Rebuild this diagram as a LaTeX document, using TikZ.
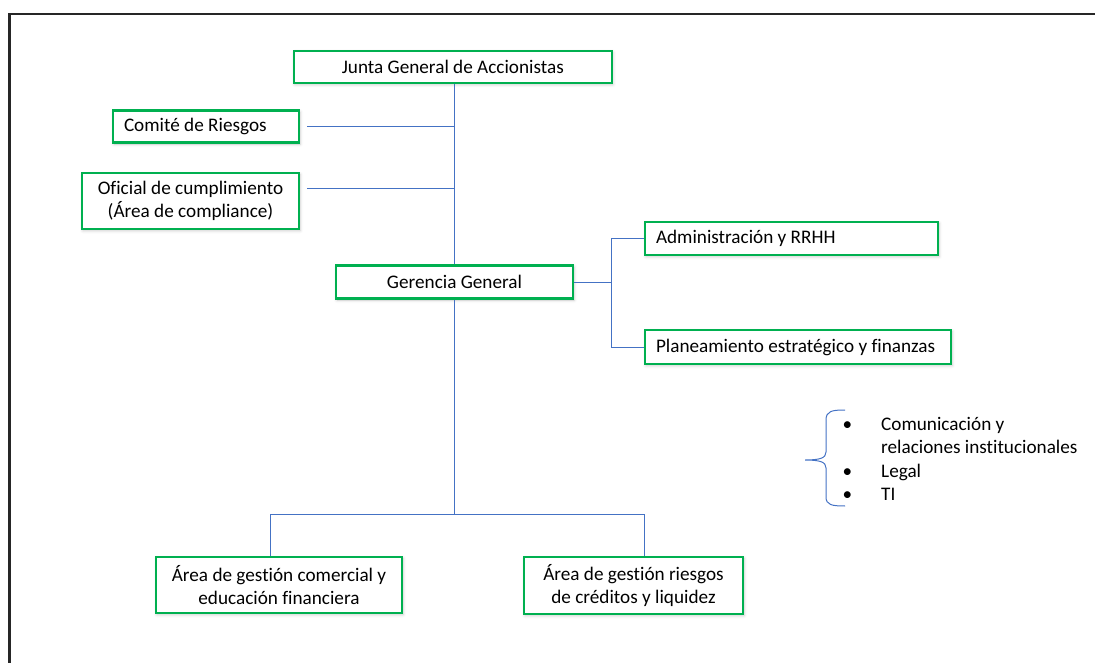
\documentclass[tikz,border=0pt]{standalone}
\usepackage{fontspec}
\setmainfont{Carlito}[Ligatures={NoCommon}]
\usetikzlibrary{calc,shadows.blur}
\definecolor{boxgreen}{HTML}{00B050}
\definecolor{linkblue}{HTML}{4472C4}
\begin{document}
\begin{tikzpicture}[x=1pt,y=-1pt,
  orgbox/.style={draw=boxgreen, line width=2.4pt, fill=white, inner sep=0pt,
    align=center, font=\fontsize{19.2}{23.4}\selectfont,
    blur shadow={shadow xshift=1pt, shadow yshift=-1.5pt,
      shadow opacity=22, shadow blur radius=3pt}},
  leftbox/.style={orgbox, text width=#1, align=flush left},
  link/.style={draw=linkblue, line width=1pt}]
\useasboundingbox (0,0) rectangle (1095,663);

% page frame
\draw[line width=2.5pt, black!85, line join=miter] (9.5,663) -- (9.5,14) -- (1095,14);

% boxes
\node[orgbox, minimum width=318, minimum height=32] (junta) at (452.8,67)
  {Junta General de Accionistas};
\node[leftbox=164, minimum width=186, minimum height=32] (comite) at (206,126.5)
  {Comité de Riesgos};
\node[orgbox, minimum width=217, minimum height=56] (oficial) at (190.5,201)
  {Oficial de cumplimiento\\(Área de compliance)};
\node[orgbox, minimum width=237, minimum height=33] (gerencia) at (454.5,282)
  {Gerencia General};
\node[leftbox=271, minimum width=293, minimum height=33] (adm) at (791.5,238.5)
  {Administración y RRHH};
\node[leftbox=284, minimum width=306, minimum height=34] (plan) at (798,347)
  {Planeamiento estratégico y finanzas};
\node[orgbox, minimum width=246, minimum height=56] (comercial) at (279,585)
  {Área de gestión comercial y\\educación financiera};
\node[orgbox, minimum width=219, minimum height=57] (riesgos) at (633.5,585.5)
  {Área de gestión riesgos\\de créditos y liquidez};

% connectors
\draw[link] (gerencia.north) -- (gerencia.north |- junta.south);
\draw[link] ([xshift=7pt]comite.east) -- (comite.east -| gerencia.north);
\draw[link] ([xshift=7pt,yshift=12pt]oficial.east) -- ([yshift=12pt]oficial.east -| gerencia.north);

\coordinate (rbus) at ($(gerencia.east)+(37,0)$);
\draw[link] (gerencia.east) -- (rbus);
\draw[link] (adm.west) -- (adm.west -| rbus) -- (plan.west -| rbus) -- (plan.west);

\coordinate (bbus) at ($(gerencia.south)+(0,215)$);
\draw[link] (gerencia.south) -- (bbus);
\draw[link] ([xshift=-9pt]comercial.north) |- (bbus) -| ([xshift=11pt]riesgos.north);

% support areas with brace
\draw[link] (845,410) .. controls (832,410) and (826,411) .. (826,420) -- (826,452)
  .. controls (826,458) and (820,460) .. (805,460)
  .. controls (820,460) and (826,462) .. (826,468) -- (826,497)
  .. controls (826,505) and (832,506) .. (845,506);
\node[anchor=base west, inner sep=0pt, font=\fontsize{19.2}{23.4}\selectfont] (areas) at (842.5,430.5)
  {\begin{tabular}[t]{@{}p{38.5pt}@{}l@{}}
   \textbullet & Comunicación y\\
               & relaciones institucionales\\
   \textbullet & Legal\\
   \textbullet & TI
   \end{tabular}};
\end{tikzpicture}
\end{document}
